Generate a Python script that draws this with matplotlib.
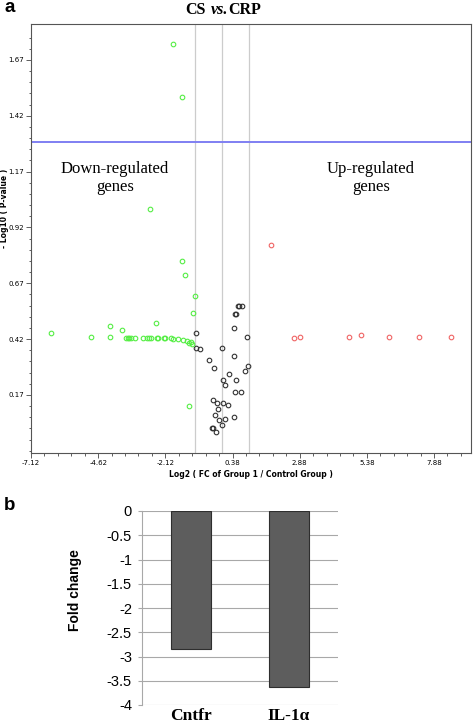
import matplotlib
matplotlib.use("Agg")
import matplotlib.pyplot as plt

# ---- panel a: volcano plot data (log2 FC, -log10 p) ----
down_x = [-4.88, -4.17, -3.59, -3.51, -3.46, -3.39, -3.24, -2.94, -2.81, -2.72,
          -2.64, -2.44, -2.38, -2.16, -2.12, -1.90, -1.82, -1.64, -1.46, -1.31,
          -1.25, -1.18, -1.13,
          -6.38, -4.17, -3.72, -2.48, -1.10, -1.03, -1.23, -2.70, -1.51, -1.38,
          -1.85, -1.49]
down_y = [0.428, 0.428, 0.427, 0.427, 0.427, 0.427, 0.427, 0.427, 0.427, 0.427,
          0.427, 0.427, 0.427, 0.425, 0.425, 0.424, 0.421, 0.421, 0.415, 0.410,
          0.402, 0.406, 0.398,
          0.446, 0.478, 0.460, 0.492, 0.539, 0.613, 0.119, 1.002, 0.771, 0.706,
          1.742, 1.506]

up_x = [1.81, 2.68, 2.88, 4.70, 5.17, 6.21, 7.32, 8.52]
up_y = [0.840, 0.424, 0.431, 0.428, 0.440, 0.428, 0.428, 0.428]

ns_x = [-0.97, -0.97, -0.84, -0.51, -0.32, -0.02, 0.04, 0.09, 0.26, 0.42,
        0.45, 0.47, 0.52, 0.49, 0.51, 0.58, 0.63, 0.73, 0.70, 0.86,
        0.93, 0.97, -0.36, -0.20, -0.17, -0.26, -0.12, -0.02, 0.04, 0.11,
        0.22, 0.42, -0.37, -0.35, -0.25]
ns_y = [0.449, 0.382, 0.375, 0.325, 0.291, 0.379, 0.236, 0.213, 0.263, 0.471,
        0.345, 0.185, 0.236, 0.531, 0.533, 0.570, 0.570, 0.567, 0.185, 0.276,
        0.428, 0.300, 0.148, 0.136, 0.107, 0.079, 0.058, 0.036, 0.134, 0.064,
        0.127, 0.070, 0.024, 0.021, 0.004]

x_ticks = [-7.12, -4.62, -2.12, 0.38, 2.88, 5.38, 7.88]
y_ticks = [0.17, 0.42, 0.67, 0.92, 1.17, 1.42, 1.67]
fc_lines = [-1, 0, 1]
p_line = 1.301

# ---- panel b: qPCR fold change ----
genes = ["Cntfr", "IL-1\u03b1"]
fold_change = [-2.84, -3.62]
b_ticks = [0, -0.5, -1, -1.5, -2, -2.5, -3, -3.5, -4]

W, H = 473, 724
fig = plt.figure(figsize=(W / 100, H / 100), dpi=100)


def fx(px):
    return px / W


def fy(py):
    return 1 - py / H


# ---------- panel a ----------
ax = fig.add_axes([fx(31), fy(453), fx(471) - fx(31), fy(24) - fy(453)])
ax.set_xlim(-7.12, 9.255)
ax.set_ylim(-0.09, 1.831)

for v in fc_lines:
    ax.axvline(v, color="#cccccc", lw=0.9, zorder=1)
ax.axhline(p_line, color="#7f7ff2", lw=1.4, zorder=1)

mk = dict(marker="o", ls="none", ms=3.3, mew=0.8, mfc="none", zorder=3)
ax.plot(ns_x, ns_y, mec="#333333", **mk)
ax.plot(down_x, down_y, mec="#55ee44", **mk)
ax.plot(up_x, up_y, mec="#f06565", **mk)

ax.set_xticks(x_ticks)
ax.set_xticklabels([f"{t:.2f}" for t in x_ticks])
ax.set_xticks([x_ticks[0] + 0.5 * i for i in range(33)], minor=True)
ax.set_yticks(y_ticks)
ax.set_yticklabels([f"{t:.2f}" for t in y_ticks])
ax.set_yticks([-0.08 + 0.05 * i for i in range(38)], minor=True)
ax.tick_params(which="major", length=3.5, width=0.6, labelsize=5, pad=1.5,
               color="#444444")
ax.tick_params(which="minor", length=1.8, width=0.6, color="#444444")
for s in ax.spines.values():
    s.set_color("#555555")
    s.set_linewidth(0.8)

ax.set_xlabel("Log2 ( FC of Group 1 / Control Group )", fontsize=5.5,
              fontweight="bold", labelpad=3)
fig.text(fx(5), fy(208), "- Log10 ( P-value )", rotation=90, fontsize=5.5,
         fontweight="bold", ha="center", va="center")

serif = "Liberation Serif"
ax.text(-4.0, 1.165, "Down-regulated", family=serif, fontsize=12,
        ha="center", va="baseline")
ax.text(-4.0, 1.085, "genes", family=serif, fontsize=12, ha="center",
        va="baseline")
ax.text(5.53, 1.165, "Up-regulated", family=serif, fontsize=12,
        ha="center", va="baseline")
ax.text(5.53, 1.085, "genes", family=serif, fontsize=12, ha="center",
        va="baseline")

# title "CS vs.CRP" with italic "vs."
fig.text(fx(185), fy(13.5), "CS", family=serif, fontsize=11.5,
         fontweight="bold", va="baseline")
fig.text(fx(211), fy(13.5), "vs.", family=serif, fontsize=11.5,
         fontweight="bold", style="italic", va="baseline")
fig.text(fx(228.5), fy(13.5), "CRP", family=serif, fontsize=11.5,
         fontweight="bold", va="baseline")

fig.text(fx(4), fy(12), "a", family="Liberation Sans", fontsize=13.5,
         fontweight="bold", va="baseline")
fig.text(fx(4), fy(510), "b", family="Liberation Sans", fontsize=13.5,
         fontweight="bold", va="baseline")

# ---------- panel b ----------
bx = fig.add_axes([fx(141.7), fy(705), fx(337.7) - fx(141.7), fy(511) - fy(705)])
bx.set_xlim(-0.5, 1.5)
bx.set_ylim(-4, 0)
bx.set_axisbelow(True)
bx.yaxis.grid(True, color="#a8a8a8", lw=0.8)
bx.bar(range(len(genes)), fold_change, width=0.405, color="#5d5d5d",
       edgecolor="#2e2e2e", linewidth=0.8, zorder=3)
bx.set_yticks(b_ticks)
bx.set_yticklabels(["0", "-0.5", "-1", "-1.5", "-2", "-2.5", "-3", "-3.5", "-4"],
                   family="Liberation Sans", fontsize=10.5)
bx.set_xticks(range(len(genes)))
bx.set_xticklabels(genes, family=serif, fontsize=12.5, fontweight="bold")
bx.tick_params(axis="y", length=3, color="#a8a8a8", pad=4)
bx.tick_params(axis="x", length=0, pad=2)
for k in ["top", "right", "bottom"]:
    bx.spines[k].set_visible(False)
bx.spines["left"].set_color("#a8a8a8")
fig.text(fx(75), fy(590), "Fold change", family="Liberation Sans", fontsize=10,
         fontweight="bold", rotation=90, ha="center", va="center")

fig.savefig("out.png", dpi=100)
